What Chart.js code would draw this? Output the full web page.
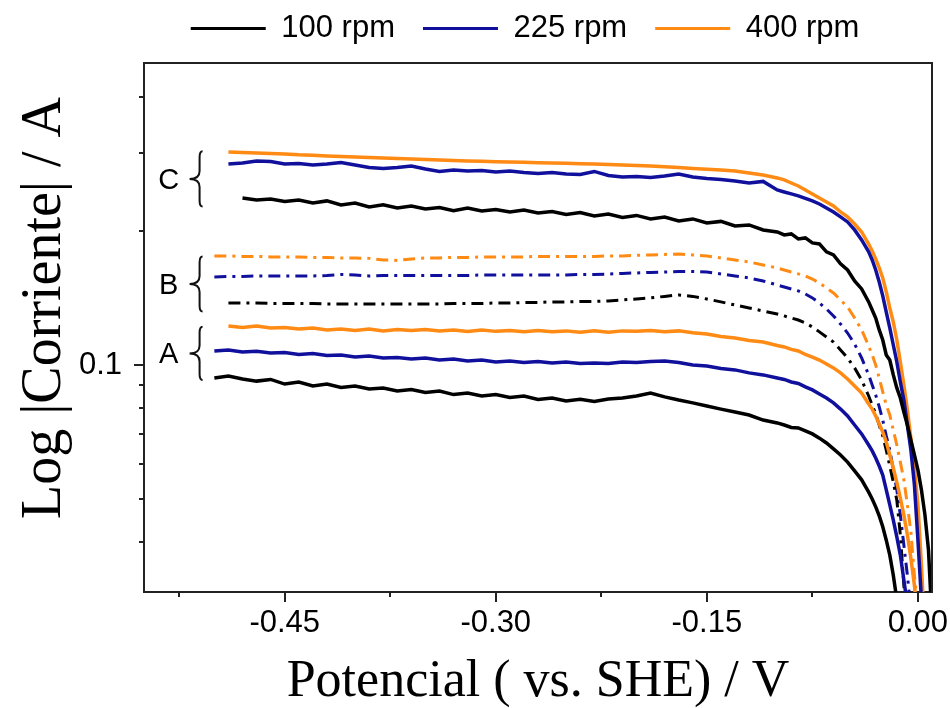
<!DOCTYPE html>
<html>
<head>
<meta charset="utf-8">
<script src="https://cdn.jsdelivr.net/npm/chart.js@4.4.1/dist/chart.umd.min.js"></script>
<style>
html,body{margin:0;padding:0;background:#fff;}
canvas{display:block;}
</style>
</head>
<body>
<canvas id="c" width="950" height="708"></canvas>
<script>
// ---------------- DATA ----------------
const potential = [-0.50,-0.49,-0.48,-0.47,-0.46,-0.45,-0.44,-0.43,-0.42,-0.41,
  -0.40,-0.39,-0.38,-0.37,-0.36,-0.35,-0.34,-0.33,-0.32,-0.31,
  -0.30,-0.29,-0.28,-0.27,-0.26,-0.25,-0.24,-0.23,-0.22,-0.21,
  -0.20,-0.19,-0.18,-0.17,-0.16,-0.15,-0.14,-0.13,-0.12,-0.11,
  -0.10,-0.095,-0.09,-0.085,-0.08,-0.075,-0.07,-0.065,-0.06,-0.055,
  -0.05,-0.045,-0.04,-0.035,-0.0325,-0.03,-0.0275,-0.025,-0.0225,-0.02,
  -0.0175,-0.015,-0.0125,-0.01,-0.0075,-0.005,-0.0025,0,0.0025,0.005,
  0.0075,0.01];

// Group C (solid, upper)
const i400C = [null,.3011,.3003,.2995,.2987,.2980,.2967,.2960,.2949,.2941,
  .2934,.2926,.2918,.2911,.2903,.2896,.2888,.2881,.2873,.2869,
  .2863,.2859,.2854,.2848,.2844,.2840,.2834,.2829,.2822,.2815,
  .2808,.2800,.2789,.2779,.2764,.2753,.2743,.2729,.2701,.2673,
  .2632,.2605,.2564,.2525,.2473,.2423,.2373,.2324,.2277,.2207,
  .2151,.2074,.1990,.1870,.1804,.1731,.1652,.1569,.1459,.1343,
  .1249,.1138,.1016,.0902,.0792,.0685,.0587,.0485,.0355,.0241,
  null,null];
const i225C = [null,.2829,.2844,.2873,.2866,.2829,.2836,.2815,.2829,.2851,
  .2815,.2779,.2764,.2779,.2800,.2757,.2722,.2743,.2729,.2736,
  .2715,.2729,.2708,.2694,.2708,.2687,.2680,.2722,.2666,.2645,
  .2652,.2639,.2659,.2687,.2645,.2625,.2612,.2592,.2565,.2585,
  .2473,.2448,.2423,.2398,.2367,.2337,.2300,.2253,.2207,.2151,
  .2096,.2011,.1910,.1795,.1722,.1635,.1536,.1430,.1315,.1211,
  .1109,.1016,.0916,.0834,.0733,.0644,.0538,.0404,.0297,.0217,
  null,null];
const i100C = [null,null,.2373,.2349,.2361,.2330,.2349,.2312,.2337,.2288,
  .2312,.2265,.2290,.2253,.2277,.2241,.2259,.2222,.2253,.2218,
  .2236,.2207,.2230,.2196,.2213,.2179,.2201,.2162,.2184,.2145,
  .2168,.2129,.2151,.2107,.2129,.2085,.2102,.2053,.2064,.2011,
  .1990,.1960,.1970,.1920,.1930,.1881,.1871,.1795,.1767,.1687,
  .1635,.1544,.1482,.1386,.1329,.1275,.1199,.1138,.1053,.1026,
  .0950,.0888,.0843,.0784,.0733,.0678,.0628,.0581,.0524,.0460,
  .0384,.0267];

// Group B (dash-dot, middle)
const i400B = [.1758,.1758,.1754,.1754,.1749,.1749,.1749,.1745,.1745,.1740,
  .1740,.1736,.1722,.1718,.1731,.1740,.1740,.1745,.1745,.1749,
  .1749,.1749,.1749,.1754,.1754,.1754,.1754,.1754,.1758,.1758,
  .1763,.1767,.1772,.1776,.1767,.1758,.1740,.1722,.1704,.1678,
  .1652,.1635,.1618,.1602,.1585,.1560,.1528,.1489,.1452,.1400,
  .1350,.1275,.1199,.1103,.1053,.1000,.0935,.0870,.0813,.0772,
  .0714,.0661,.0605,.0552,.0485,.0422,.0337,.0282,null,null,
  null,null];
const i225B = [.1577,.1581,.1581,.1585,.1585,.1585,.1585,.1585,.1589,.1597,
  .1593,.1585,.1589,.1589,.1589,.1589,.1589,.1589,.1589,.1593,
  .1593,.1593,.1593,.1593,.1593,.1593,.1597,.1597,.1601,.1606,
  .1610,.1614,.1618,.1622,.1622,.1618,.1601,.1585,.1569,.1544,
  .1513,.1497,.1482,.1467,.1444,.1415,.1378,.1336,.1289,.1236,
  .1180,.1115,.1037,.0950,.0902,.0856,.0805,.0752,.0693,.0644,
  .0581,.0524,.0460,.0394,.0337,.0282,null,null,null,null,
  null,null];
const i100B = [null,.1378,.1378,.1378,.1375,.1375,.1375,.1375,.1371,.1371,
  .1371,.1371,.1371,.1371,.1371,.1371,.1371,.1375,.1375,.1375,
  .1378,.1378,.1382,.1382,.1386,.1386,.1389,.1389,.1393,.1400,
  .1407,.1415,.1426,.1437,.1426,.1407,.1386,.1364,.1343,.1322,
  .1302,.1289,.1275,.1262,.1243,.1217,.1187,.1156,.1126,.1081,
  .1037,.0985,.0925,.0852,.0813,.0776,.0733,.0693,.0644,.0593,
  .0546,.0497,.0415,.0320,.0254,null,null,null,null,null,
  null,null];

// Group A (solid, lower)
const i400A = [null,.1224,.1214,.1224,.1211,.1214,.1205,.1211,.1199,.1205,
  .1196,.1205,.1193,.1202,.1196,.1202,.1193,.1199,.1190,.1199,
  .1190,.1196,.1187,.1196,.1187,.1193,.1184,.1193,.1184,.1193,
  .1190,.1196,.1187,.1193,.1181,.1174,.1159,.1150,.1135,.1126,
  .1106,.1098,.1084,.1075,.1056,.1042,.1026,.1005,.0985,.0960,
  .0930,.0897,.0865,.0817,.0796,.0768,.0737,.0707,.0671,.0628,
  .0587,.0545,.0502,.0460,.0415,.0368,.0320,.0267,null,null,
  null,null];
const i225A = [.1075,.1081,.1070,.1073,.1064,.1067,.1056,.1061,.1050,.1053,
  .1042,.1048,.1037,.1040,.1032,.1037,.1026,.1032,.1021,.1026,
  .1016,.1021,.1013,.1018,.1010,.1016,.1008,.1010,.1008,.1016,
  .1013,.1018,.1021,.1013,.1000,.0995,.0982,.0975,.0960,.0950,
  .0935,.0928,.0916,.0909,.0893,.0879,.0861,.0843,.0822,.0796,
  .0768,.0733,.0700,.0661,.0641,.0618,.0593,.0566,.0524,.0485,
  .0448,.0411,.0374,.0329,.0289,null,null,null,null,null,
  null,null];
const i100A = [.0935,.0945,.0930,.0920,.0928,.0906,.0916,.0897,.0906,.0890,
  .0897,.0883,.0888,.0874,.0881,.0867,.0874,.0858,.0865,.0852,
  .0858,.0845,.0852,.0837,.0843,.0830,.0837,.0828,.0839,.0843,
  .0852,.0865,.0848,.0834,.0822,.0809,.0796,.0784,.0772,.0752,
  .0741,.0733,.0724,.0722,.0711,.0700,.0685,.0668,.0648,.0628,
  .0605,.0578,.0552,.0518,.0500,.0480,.0458,.0433,.0404,.0374,
  .0337,.0297,.0254,null,null,null,null,null,null,null,
  null,null];

const seriesLabels = ['100 rpm', '225 rpm', '400 rpm'];
const xMajorTicks = [-0.45, -0.30, -0.15, 0.00];
const xMinorTicks = [-0.525, -0.375, -0.225, -0.075];
const yMajorTicks = [0.1];
const yMinorTicks = [0.04, 0.05, 0.06, 0.07, 0.08, 0.09, 0.2, 0.3, 0.4];
const groupNames = ['A', 'B', 'C'];
const groupLow = [0.0925, 0.1318, 0.227];
const groupHigh = [0.1219, 0.1752, 0.302];
const xAxisTitle = 'Potencial ( vs. SHE) / V';
const yAxisTitle = 'Log |Corriente| / A';

// ---------------- STYLE ----------------
const colors = ['#000000', '#10109c', '#ff8a14'];
const axisColor = '#222222';
const sansFont = '"Liberation Sans", Arial, sans-serif';
const serifFont = '"Liberation Serif", "Times New Roman", serif';

function pts(arr) {
  const out = [];
  potential.forEach((x, i) => { if (arr[i] !== null) out.push({x: x, y: arr[i]}); });
  return out;
}

const groupSeries = [
  {name: 'A', dash: [], width: 3.5, arrs: [i100A, i225A, i400A]},
  {name: 'B', dash: [12, 6, 3, 6], width: 3, arrs: [i100B, i225B, i400B]},
  {name: 'C', dash: [], width: 3.5, arrs: [i100C, i225C, i400C]}
];

const datasets = [];
groupSeries.forEach(g => {
  g.arrs.forEach((arr, k) => {
    datasets.push({
      label: seriesLabels[k] + ' ' + g.name,
      data: pts(arr),
      borderColor: colors[k],
      backgroundColor: colors[k],
      borderWidth: g.width,
      borderDash: g.dash,
      pointRadius: 0,
      tension: 0,
      fill: false
    });
  });
});

const decorPlugin = {
  id: 'decor',
  afterDraw(chart) {
    const {ctx, chartArea: a} = chart;
    const xs = chart.scales.x, ys = chart.scales.y;
    ctx.save();
    ctx.strokeStyle = axisColor;
    ctx.lineWidth = 2;
    ctx.beginPath();
    ctx.moveTo(a.left - 1, a.top);
    ctx.lineTo(a.right, a.top);
    ctx.lineTo(a.right, a.bottom + 1);
    ctx.stroke();
    ctx.beginPath();
    xs.ticks.forEach(t => {
      const p = Math.round(xs.getPixelForValue(t.value));
      const len = t.label ? 10 : 5;
      ctx.moveTo(p, a.bottom); ctx.lineTo(p, a.bottom + len);
    });
    ys.ticks.forEach(t => {
      const p = Math.round(ys.getPixelForValue(t.value));
      const len = t.label ? 10 : 5;
      ctx.moveTo(a.left, p); ctx.lineTo(a.left - len, p);
    });
    ctx.stroke();
    // braces and group letters
    const xStem = xs.getPixelForValue(-0.5105);
    const xLetter = xs.getPixelForValue(-0.5325);
    ctx.lineWidth = 2;
    ctx.strokeStyle = '#111';
    ctx.fillStyle = '#000';
    ctx.font = '29px ' + sansFont;
    ctx.textAlign = 'center';
    ctx.textBaseline = 'middle';
    groupNames.forEach((n, i) => {
      const yT = ys.getPixelForValue(groupHigh[i]);
      const yB = ys.getPixelForValue(groupLow[i]);
      const ym = (yT + yB) / 2;
      const xp = xStem - 10, xh = xStem + 3, r = 6, r2 = 8;
      ctx.beginPath();
      ctx.moveTo(xh, yT);
      ctx.quadraticCurveTo(xStem, yT, xStem, yT + r);
      ctx.lineTo(xStem, ym - r2);
      ctx.quadraticCurveTo(xStem, ym, xp, ym);
      ctx.quadraticCurveTo(xStem, ym, xStem, ym + r2);
      ctx.lineTo(xStem, yB - r);
      ctx.quadraticCurveTo(xStem, yB, xh, yB);
      ctx.stroke();
      ctx.fillText(n, xLetter, ym + 2);
    });
    // y axis title (rotated), centred on the labelled region like the original
    ctx.save();
    ctx.translate(45, 308);
    ctx.rotate(-Math.PI / 2);
    ctx.font = '56px ' + serifFont;
    ctx.fillStyle = '#000';
    ctx.textAlign = 'center';
    ctx.textBaseline = 'middle';
    ctx.fillText(yAxisTitle, 0, 0);
    ctx.restore();
    ctx.restore();
  }
};

Chart.defaults.font.family = sansFont;
Chart.defaults.color = '#000';

new Chart(document.getElementById('c'), {
  type: 'line',
  data: {datasets: datasets},
  options: {
    responsive: false,
    animation: false,
    devicePixelRatio: 1,
    layout: {padding: {top: -15, right: 18, bottom: 0, left: 0}},
    plugins: {
      tooltip: {enabled: false},
      legend: {
        display: true,
        position: 'top',
        fullSize: false,
        labels: {
          boxWidth: 75,
          boxHeight: 3,
          padding: 28,
          color: '#000',
          font: {size: 31, family: sansFont},
          generateLabels: () => seriesLabels.map((t, i) => ({
            text: i === seriesLabels.length - 1 ? t + '   ' : t,
            fillStyle: colors[i], strokeStyle: colors[i],
            lineWidth: 0, hidden: false, datasetIndex: i, fontColor: '#000'
          }))
        }
      }
    },
    scales: {
      x: {
        type: 'linear',
        position: 'bottom',
        min: -0.55,
        max: 0.01,
        grid: {display: false, drawTicks: false},
        border: {display: true, color: axisColor, width: 2},
        afterBuildTicks: s => {
          s.ticks = [...xMinorTicks, ...xMajorTicks].sort((a, b) => a - b).map(v => ({value: v}));
        },
        afterFit: s => { s.height = 116; s.paddingLeft = 0; s.paddingRight = 0; },
        ticks: {
          autoSkip: false,
          maxRotation: 0,
          padding: 13,
          color: '#000',
          font: {size: 31, family: sansFont},
          callback: v => xMajorTicks.some(m => Math.abs(m - v) < 1e-9) ? v.toFixed(2) : ''
        },
        title: {
          display: true,
          text: xAxisTitle,
          color: '#000',
          font: {size: 52, family: serifFont, lineHeight: 1},
          padding: {top: 0, bottom: 0}
        }
      },
      x2: {
        type: 'linear',
        position: 'top',
        min: 0, max: 1,
        grid: {display: false, drawTicks: false},
        border: {display: false},
        ticks: {display: false},
        afterFit: s => { s.height = 9; }
      },
      y: {
        type: 'logarithmic',
        position: 'left',
        min: 0.0309,
        max: 0.477,
        grid: {display: false, drawTicks: false},
        border: {display: true, color: axisColor, width: 2},
        afterBuildTicks: s => {
          s.ticks = [...yMinorTicks, ...yMajorTicks].sort((a, b) => a - b).map(v => ({value: v}));
        },
        afterFit: s => { s.width = 144; },
        ticks: {
          autoSkip: false,
          padding: 22,
          color: '#000',
          font: {size: 31, family: sansFont},
          callback: v => yMajorTicks.some(m => Math.abs(m - v) < 1e-9) ? String(v) : ''
        },
        title: {display: false}
      }
    }
  },
  plugins: [decorPlugin]
});
</script>
</body>
</html>
